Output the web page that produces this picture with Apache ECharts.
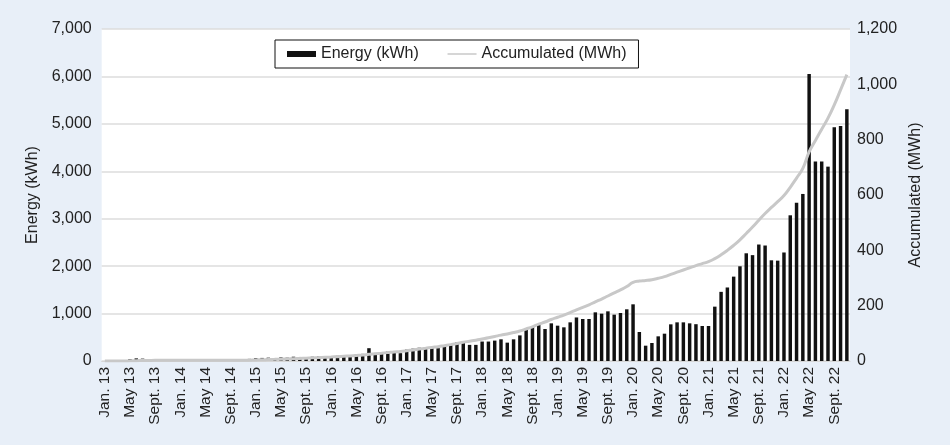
<!DOCTYPE html>
<html>
<head>
<meta charset="utf-8">
<script src="https://cdn.jsdelivr.net/npm/echarts@6/dist/echarts.min.js"></script>
<style>
html,body{margin:0;padding:0;background:#e8eff8;}
#c{width:950px;height:445px;}
</style>
</head>
<body>
<div id="c"></div>
<script>
// Month names and years used for the category axis
var monthNames = ['Jan.','Feb.','Mar.','Apr.','May','June','July','Aug.','Sept.','Oct.','Nov.','Dec.'];
var years = ['13','14','15','16','17','18','19','20','21','22'];
var categories = [];
years.forEach(function(y){ monthNames.forEach(function(m){ categories.push(m + ' ' + y); }); });
categories = categories.slice(0, 119); // Jan. 13 .. Nov. 22

// Monthly energy (kWh)
var energy = [
  0,0,0,0,40,55,50,40,25,0,0,0,
  0,0,0,0,0,0,0,0,0,0,30,45,
  60,65,70,60,75,70,90,85,80,90,95,100,
  105,110,120,125,135,150,270,170,185,200,210,165,
  240,260,280,280,270,270,335,340,395,395,340,340,
  410,410,430,457,387,457,540,662,724,762,675,794,
  745,710,815,918,886,886,1026,998,1047,977,1012,1090,
  1195,612,323,380,520,576,773,815,815,794,776,738,
  738,1146,1458,1550,1779,1997,2271,2232,2456,2435,2123,2116,
  2288,3072,3339,3522,6053,4204,4204,4098,4928,4956,5308
];

// Accumulated energy (MWh)
var accumulated = [
  0,0,0,0,0.5,1.1,1.6,2.0,2.3,2.3,2.3,2.3,
  2.3,2.3,2.3,2.3,2.3,2.3,2.3,2.3,2.3,2.3,2.6,3.1,
  3.8,4.5,5.3,5.9,6.7,7.5,8.5,9.4,10.3,11.3,12.3,13.4,
  14.5,15.7,17.0,18.4,19.9,21.5,24.4,26.3,28.3,30.5,32.8,34.6,
  37.2,40.0,43.0,46.0,49.0,51.9,55.5,59.2,63.5,67.8,71.5,75.2,
  79.6,84.0,88.7,93.6,97.8,102.8,108.6,115.8,123.6,133,141,150,
  158,166,175,185,194,203,214,224,235,246,257,269,
  284,289,291,294,299,305,313,321,329,337,345,352,
  359,370,384,400,418,438,461,484,509,533,555,576,
  598,628,661,696,756,797,838,878,926,980,1035
];

var FONT = "'Liberation Sans', Arial, Helvetica, sans-serif";
var TXT = '#222222';
function fmt(v){ return v.toLocaleString('en-US'); }

var chart = echarts.init(document.getElementById('c'), null, {renderer:'canvas'});
chart.setOption({
  backgroundColor: '#e8eff8',
  animation: false,
  textStyle: {fontFamily: FONT},
  grid: {left: 101.7, right: 100, top: 29, bottom: 84, show: true, backgroundColor: '#ffffff', borderWidth: 0, containLabel: false},
  legend: {
    left: 275, top: 40,
    padding: [6, 12],
    itemGap: 28,
    itemWidth: 29, itemHeight: 6,
    backgroundColor: '#ffffff',
    borderColor: '#111111', borderWidth: 1, borderRadius: 0,
    textStyle: {fontFamily: FONT, fontSize: 16, color: TXT},
    data: [
      {name: 'Energy (kWh)', icon: 'rect'},
      {name: 'Accumulated (MWh)', lineStyle: {width: 1.5, color: '#c8c8c8'},
       itemStyle: {color: 'rgba(0,0,0,0)', borderColor: 'rgba(0,0,0,0)', borderWidth: 0}}
    ]
  },
  xAxis: {
    type: 'category',
    data: categories,
    boundaryGap: true,
    axisLine: {show: true, lineStyle: {color: '#d6d6d6', width: 1}},
    axisTick: {show: false},
    axisLabel: {interval: 3, rotate: 90, margin: 6, fontSize: 15.5, color: TXT, fontFamily: FONT}
  },
  yAxis: [
    {
      type: 'value', min: 0, max: 7000, interval: 1000,
      name: 'Energy (kWh)', nameLocation: 'middle', nameGap: 57, nameRotate: 90,
      nameTextStyle: {fontSize: 16, color: TXT, fontFamily: FONT},
      axisLine: {show: false}, axisTick: {show: false},
      axisLabel: {formatter: fmt, fontSize: 16, color: TXT, margin: 10, fontFamily: FONT},
      splitLine: {show: true, lineStyle: {color: '#dcdcdc', width: 1.5}}
    },
    {
      type: 'value', min: 0, max: 1200, interval: 200, position: 'right',
      name: 'Accumulated (MWh)', nameLocation: 'middle', nameGap: 57, nameRotate: 90,
      nameTextStyle: {fontSize: 16, color: TXT, fontFamily: FONT},
      axisLine: {show: false}, axisTick: {show: false},
      axisLabel: {formatter: fmt, fontSize: 16, color: TXT, margin: 7, fontFamily: FONT},
      splitLine: {show: false}
    }
  ],
  series: [
    {
      name: 'Energy (kWh)', type: 'bar', yAxisIndex: 0,
      data: energy, barWidth: '55%',
      itemStyle: {color: '#111111'}
    },
    {
      name: 'Accumulated (MWh)', type: 'line', yAxisIndex: 1,
      data: accumulated, smooth: true, symbol: 'none', showSymbol: false,
      itemStyle: {color: '#c8c8c8'},
      lineStyle: {color: '#c8c8c8', width: 3}
    }
  ]
});
</script>
</body>
</html>
